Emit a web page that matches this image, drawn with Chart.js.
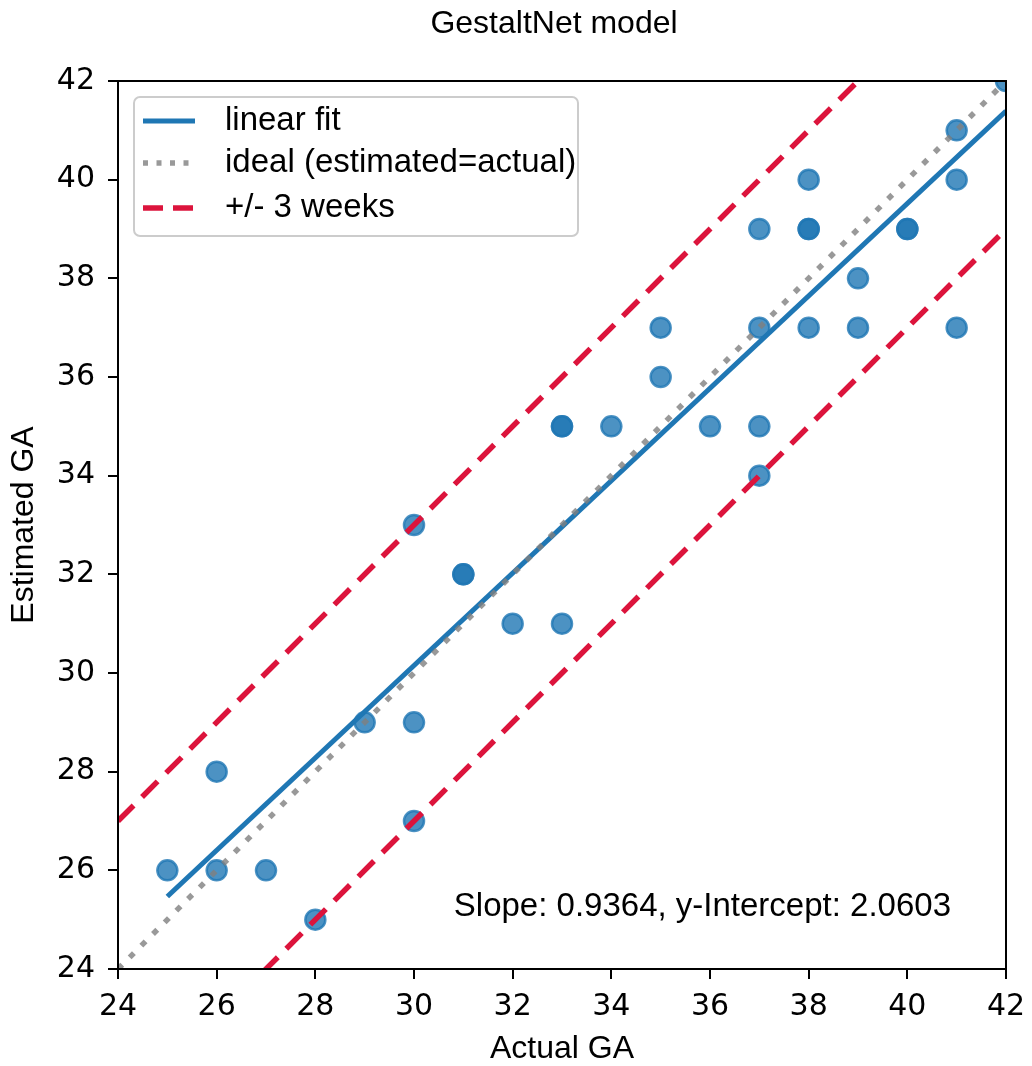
<!DOCTYPE html>
<html>
<head>
<meta charset="utf-8">
<title>GestaltNet model</title>
<script src="https://cdn.jsdelivr.net/npm/chart.js"></script>
<style>
  html, body { margin: 0; padding: 0; background: #fff; }
  #chart { display: block; }
</style>
</head>
<body>
<canvas id="chart" width="1032" height="1066"></canvas>
<script>
// gestational age, actual vs estimated (weeks)
const actualGA    = [25, 26, 26, 27, 28, 29, 30, 30, 30, 31, 31, 32, 33, 33, 33, 34, 35, 35,
                     36, 37, 37, 37, 37, 38, 38, 38, 38, 39, 39, 40, 40, 41, 41, 41, 42];
const estimatedGA = [26, 28, 26, 26, 25, 29, 33, 29, 27, 32, 32, 31, 35, 35, 31, 35, 37, 36,
                     35, 39, 37, 35, 34, 40, 39, 39, 37, 38, 37, 39, 39, 41, 40, 37, 42];

const fitSlope = 0.9364;
const fitIntercept = 2.0603;
const fitRange = [25, 42];
const axisRange = [24, 42];
const bandWeeks = 3;

const xTicks = [24, 26, 28, 30, 32, 34, 36, 38, 40, 42];
const yTicks = [24, 26, 28, 30, 32, 34, 36, 38, 40, 42];

const TEXT_FONT = '"Liberation Sans", Arial, sans-serif';
const TICK_FONT = '"DejaVu Sans", sans-serif';
const BLUE = '#1f77b4';
const RED = '#dc143c';

const points = actualGA.map((x, i) => ({ x, y: estimatedGA[i] }));
const fitLine = fitRange.map(x => ({ x, y: fitSlope * x + fitIntercept }));
const idealLine = axisRange.map(x => ({ x, y: x }));
const upperBand = axisRange.map(x => ({ x, y: x + bandWeeks }));
const lowerBand = axisRange.map(x => ({ x, y: x - bandWeeks }));

const lineBase = { showLine: true, pointRadius: 0, pointHoverRadius: 0, fill: false, clip: 0, borderCapStyle: 'butt' };

// index 0 is painted last, so the lines sit over the dots
const datasets = [
    { ...lineBase, data: lowerBand, borderColor: RED, borderWidth: 5.5, borderDash: [22, 12] },
    { ...lineBase, data: upperBand, borderColor: RED, borderWidth: 5.5, borderDash: [22, 12],
      legendText: '+/- 3 weeks', legendRank: 2, legendDash: [20, 10] },
    { ...lineBase, data: idealLine, borderColor: 'rgba(128,128,128,0.8)', borderWidth: 5.5, borderDash: [6, 10.5],
      legendText: 'ideal (estimated=actual)', legendRank: 1, legendDash: [5, 8.5] },
    { ...lineBase, data: fitLine, borderColor: BLUE, borderWidth: 5,
      legendText: 'linear fit', legendRank: 0, legendDash: [] },
    { data: points, showLine: false, clip: 0, pointStyle: 'circle', pointRadius: 10, pointHoverRadius: 10,
      backgroundColor: 'rgba(31,119,180,0.8)', borderColor: 'rgba(31,119,180,0.8)', borderWidth: 2.5 }
];

const frame = {
    id: 'frame',
    afterDatasetsDraw(chart) {
        const { ctx, chartArea: a } = chart;
        ctx.save();
        ctx.strokeStyle = '#000';
        ctx.lineWidth = 2;
        ctx.strokeRect(a.left, a.top, a.right - a.left, a.bottom - a.top);
        ctx.restore();
    }
};

const legendBox = {
    id: 'legendBox',
    afterDraw(chart) {
        const { ctx } = chart;
        const rows = chart.data.datasets
            .filter(d => d.legendText)
            .sort((a, b) => a.legendRank - b.legendRank);
        ctx.save();
        ctx.beginPath();
        ctx.roundRect(134, 97, 444, 139, 6);
        ctx.fillStyle = 'rgba(255,255,255,0.8)';
        ctx.fill();
        ctx.strokeStyle = '#cccccc';
        ctx.lineWidth = 2;
        ctx.stroke();

        const rowY = [121, 163, 208];
        ctx.font = '33px ' + TEXT_FONT;
        ctx.textBaseline = 'middle';
        ctx.fillStyle = '#000';
        rows.forEach((d, i) => {
            const y = rowY[i];
            ctx.beginPath();
            ctx.setLineDash(d.legendDash);
            ctx.lineCap = 'butt';
            ctx.lineWidth = d.borderWidth;
            ctx.strokeStyle = d.borderColor;
            ctx.moveTo(143, y);
            ctx.lineTo(195, y);
            ctx.stroke();
            ctx.setLineDash([]);
            ctx.fillText(d.legendText, 225, y);
        });
        ctx.restore();
    }
};

const captions = {
    id: 'captions',
    afterDraw(chart) {
        const { ctx } = chart;
        ctx.save();
        ctx.fillStyle = '#000';
        ctx.textBaseline = 'alphabetic';
        ctx.font = '32px ' + TEXT_FONT;
        ctx.textAlign = 'center';
        ctx.fillText('GestaltNet model', 554, 33);
        ctx.font = '33px ' + TEXT_FONT;
        ctx.textAlign = 'right';
        ctx.fillText(`Slope: ${fitSlope.toFixed(4)}, y-Intercept: ${fitIntercept.toFixed(4)}`, 951, 916);
        ctx.restore();
    }
};

function axisOptions(ticks, title, fitSize, horizontal) {
    return {
        type: 'linear',
        min: axisRange[0],
        max: axisRange[1],
        afterBuildTicks: scale => { scale.ticks = ticks.map(v => ({ value: v })); },
        afterFit: scale => {
            if (horizontal) scale.height = fitSize; else scale.width = fitSize;
            // the plot box is pinned by layout.padding, not by label overhang
            scale.paddingLeft = scale.paddingRight = scale.paddingTop = scale.paddingBottom = 0;
        },
        ticks: {
            color: '#000',
            padding: horizontal ? 10 : 13,
            font: { family: TICK_FONT, size: 30 },
            callback: v => String(v)
        },
        grid: { display: true, drawOnChartArea: false, drawTicks: true, tickLength: 10, color: '#000', lineWidth: 2 },
        border: { display: true, color: '#000', width: 2 },
        title: {
            display: true,
            text: title,
            color: '#000',
            font: { family: TEXT_FONT, size: 32 },
            padding: horizontal ? { top: 0, bottom: -2 } : { top: 5, bottom: 0 }
        }
    };
}

new Chart(document.getElementById('chart'), {
    type: 'scatter',
    data: { datasets },
    options: {
        responsive: false,
        animation: false,
        devicePixelRatio: 1,
        events: [],
        layout: { padding: { top: 81, right: 26, left: 0, bottom: 0 } },
        plugins: { legend: { display: false }, tooltip: { enabled: false }, title: { display: false } },
        scales: {
            x: axisOptions(xTicks, 'Actual GA', 97, true),
            y: axisOptions(yTicks, 'Estimated GA', 118, false)
        }
    },
    plugins: [frame, legendBox, captions]
});
</script>
</body>
</html>
